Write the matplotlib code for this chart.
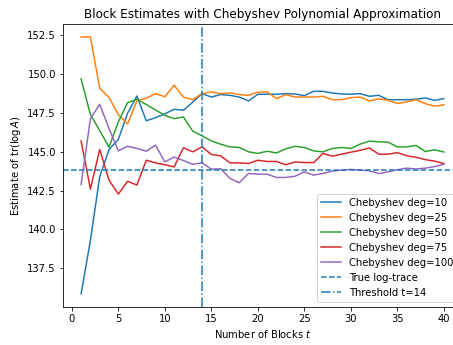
import matplotlib
matplotlib.use("Agg")
import matplotlib.pyplot as plt

# number of blocks
blocks = list(range(1, 41))

# running estimates per polynomial degree
deg10 = [135.85, 139.3, 143.4, 145.15, 145.8, 147.5, 148.6, 147.0, 147.2, 147.45,
         147.74, 147.68, 148.2, 148.75, 148.53, 148.69, 148.64, 148.53, 148.28, 148.71,
         148.71, 148.71, 148.75, 148.73, 148.62, 148.9, 148.9, 148.79, 148.73, 148.71,
         148.75, 148.58, 148.64, 148.36, 148.36, 148.36, 148.39, 148.47, 148.32, 148.43]
deg25 = [152.4, 152.4, 149.1, 148.5, 147.4, 146.8, 148.3, 148.45, 148.75, 148.55,
         149.29, 148.53, 148.36, 148.75, 148.86, 148.75, 148.8, 148.69, 148.64, 148.85,
         148.86, 148.43, 148.69, 148.53, 148.53, 148.53, 148.58, 148.36, 148.36, 148.49,
         148.53, 148.28, 148.42, 148.32, 148.12, 148.22, 148.36, 148.1, 147.94, 148.03]
deg50 = [149.7, 147.4, 146.37, 145.3, 146.93, 148.17, 148.39, 148.05, 147.7, 147.35,
         147.14, 147.25, 146.33, 146.03, 145.71, 145.49, 145.32, 145.28, 145.0, 144.9,
         145.04, 144.93, 145.19, 145.36, 145.28, 145.06, 145.0, 145.22, 145.28, 145.22,
         145.5, 145.69, 145.65, 145.62, 145.32, 145.32, 145.41, 145.02, 145.13, 144.99]
deg75 = [145.7, 142.6, 145.15, 143.18, 142.28, 143.1, 142.86, 144.46, 144.29, 144.17,
         144.03, 145.26, 145.0, 145.32, 144.83, 144.74, 144.29, 144.29, 144.25, 144.46,
         144.38, 144.38, 144.17, 144.35, 144.31, 144.31, 144.9, 144.72, 144.85, 144.98,
         145.1, 145.25, 144.85, 144.85, 144.95, 144.75, 144.65, 144.5, 144.4, 144.25]
deg100 = [142.9, 147.14, 148.06, 146.5, 145.06, 145.36, 145.22, 145.04, 145.43, 144.36,
          144.66, 144.44, 144.2, 144.29, 143.88, 143.91, 143.29, 143.01, 143.61, 143.56,
          143.56, 143.35, 143.35, 143.43, 143.71, 143.5, 143.61, 143.76, 143.82, 143.87,
          143.82, 143.78, 143.6, 143.71, 143.85, 143.95, 143.89, 143.95, 144.05, 144.21]

degrees = [10, 25, 50, 75, 100]
estimates = [deg10, deg25, deg50, deg75, deg100]

true_logtrace = 143.82
threshold = 14

fig = plt.figure(figsize=(453 / 72, 345 / 72), dpi=72)
ax = fig.add_axes([0.139, 0.111, 0.881, 0.819])

for deg, est in zip(degrees, estimates):
    ax.plot(blocks, est, label=f"Chebyshev deg={deg}")

ax.axhline(true_logtrace, linestyle="--", label="True log-trace")
ax.axvline(threshold, linestyle="-.", label=f"Threshold t={threshold}")

ax.set_title("Block Estimates with Chebyshev Polynomial Approximation")
ax.set_xlabel("Number of Blocks $t$")
ax.set_ylabel(r"Estimate of $\mathrm{tr}(\log A)$")
ax.legend(loc="lower right")

fig.savefig("out.png", dpi=72)
